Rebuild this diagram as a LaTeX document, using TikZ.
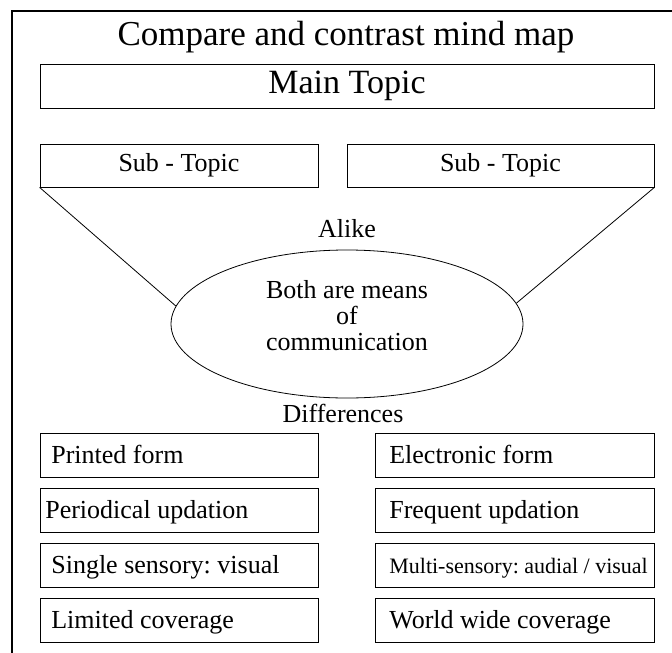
\documentclass[tikz,border=0pt]{standalone}
\usepackage{fontspec}
\setmainfont{Liberation Serif}
\usetikzlibrary{positioning,shapes.geometric}
\frenchspacing

\begin{document}
\begin{tikzpicture}[x=1pt, y=-1pt, line width=0.8pt,
  titletext/.style={font=\fontsize{35}{38}\selectfont},
  toptext/.style={font=\fontsize{34}{38}\selectfont},
  bodytext/.style={font=\fontsize{26}{26}\selectfont},
  box/.style={draw, rectangle, inner sep=0pt, minimum height=44pt},
  subbox/.style={box, bodytext, minimum width=278pt, minimum height=43pt},
  diffbox/.style={box, minimum width=278pt},
  oval/.style={draw, ellipse, inner sep=0pt, minimum width=352pt, minimum height=148pt}]

\useasboundingbox (0,0) rectangle (672,653);

% frame
\draw[line width=2pt] (672,11) -- (12,11) -- (12,653);

\node[titletext, anchor=base] (title) at (346,45) {Compare and contrast mind map};
\node[box, toptext, minimum width=614pt] (main) at (347,86) {Main Topic};

\node[subbox] (sub-1) at (179,165.5) {Sub - Topic};
\node[subbox, minimum width=307pt] (sub-2) at (500.5,165.5) {Sub - Topic};

\node[bodytext, anchor=base] (alike) at (347,237) {Alike};
\node[oval] (both) at (347,324) {};
\node[bodytext, align=center] (both-text) at (347,316) {Both are means\\of\\communication};
\node[bodytext, anchor=base] (diff) at (343,422) {Differences};

\draw (sub-1.south west) -- (both.174);
\draw (sub-2.south east) -- (both.7);

% differences
\foreach \l [count=\i] in {Printed form, \hspace{-6pt}Periodical updation, Single sensory: visual, Limited coverage} {
  \node[diffbox] (left-\i) at (179,400+55*\i) {};
  \node[bodytext, anchor=base west] (left-text-\i) at ([xshift=8pt, yshift=-8pt]left-\i.west) {\l};
}

\foreach \l [count=\i] in {Electronic form, Frequent updation, {\fontsize{22}{24}\selectfont Multi-sensory: audial / visual}, World wide coverage} {
  \node[diffbox, minimum width=279pt] (right-\i) at (514.5,400+55*\i) {};
  \node[bodytext, anchor=base west] (right-text-\i) at ([xshift=11pt, yshift=-8pt]right-\i.west) {\l};
}
\end{tikzpicture}
\end{document}
